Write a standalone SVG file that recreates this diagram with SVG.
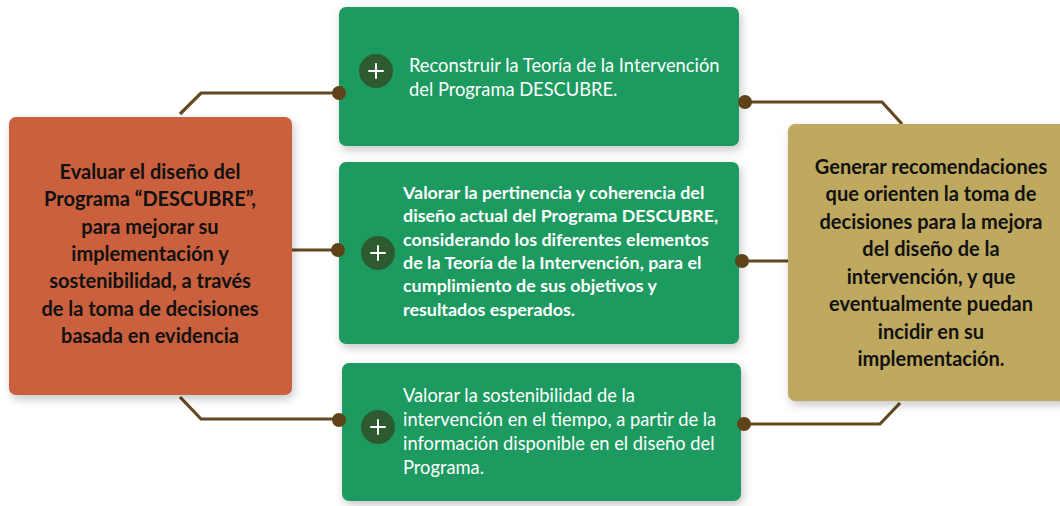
<svg xmlns="http://www.w3.org/2000/svg" width="1060" height="506" viewBox="0 0 1060 506">
<defs>
<filter id="sh" x="-10%" y="-10%" width="125%" height="130%">
<feDropShadow dx="2" dy="4" stdDeviation="5" flood-color="#000" flood-opacity="0.22"/>
</filter>
<style>
.green{fill:#1F9A61;filter:url(#sh)}
.plus{fill:#2D5A2E}
.pl{stroke:#fff;stroke-width:2;stroke-linecap:round}
.conn{fill:none;stroke:#634820;stroke-width:3.2}
.dot{fill:#5E4219}
.wt{font-family:Lato,"Open Sans","Liberation Sans",sans-serif;fill:#fff;font-size:18.3px}
.wb{font-family:Lato,"Open Sans","Liberation Sans",sans-serif;fill:#fff;font-size:17.9px;font-weight:bold}
.bk{font-family:Lato,"Open Sans","Liberation Sans",sans-serif;fill:#111;font-size:20px;font-weight:bold;text-anchor:middle}
</style>
</defs>
<rect width="1060" height="506" fill="#fff"/>
<g id="connectors">
<polyline class="conn" points="180,114 201,93 339,93"/>
<line class="conn" x1="290" y1="250" x2="337" y2="250"/>
<polyline class="conn" points="180,397 201,419 339,419"/>
<polyline class="conn" points="745,102 882,102 902,124"/>
<line class="conn" x1="742" y1="261" x2="790" y2="261"/>
<polyline class="conn" points="744,424 880,424 900,403"/>
</g>
<g id="left">
<rect x="9" y="117" width="283" height="278" rx="7" fill="#CA603C" filter="url(#sh)"/>
<text class="bk"><tspan x="150" y="179">Evaluar el diseño del</tspan><tspan x="150" y="206">Programa “DESCUBRE”,</tspan><tspan x="150" y="234">para mejorar su</tspan><tspan x="150" y="261">implementación y</tspan><tspan x="150" y="288">sostenibilidad, a través</tspan><tspan x="150" y="316">de la toma de decisiones</tspan><tspan x="150" y="343">basada en evidencia</tspan></text>
</g>
<g id="right">
<rect x="788" y="124" width="280" height="277" rx="7" fill="#BEA95E" filter="url(#sh)"/>
<text class="bk"><tspan x="931" y="174">Generar recomendaciones</tspan><tspan x="931" y="201">que orienten la toma de</tspan><tspan x="931" y="229">decisiones para la mejora</tspan><tspan x="931" y="256">del diseño de la</tspan><tspan x="931" y="284">intervención, y que</tspan><tspan x="931" y="311">eventualmente puedan</tspan><tspan x="931" y="339">incidir en su</tspan><tspan x="931" y="366">implementación.</tspan></text>
</g>
<g id="box1">
<rect class="green" x="339" y="7" width="400" height="139" rx="7"/>
<circle class="plus" cx="376" cy="71" r="17"/>
<path class="pl" d="M369,71h14M376,64v14"/>
<text class="wt"><tspan x="409" y="72">Reconstruir la Teoría de la Intervención</tspan><tspan x="409" y="96">del Programa DESCUBRE.</tspan></text>
</g>
<g id="box2">
<rect class="green" x="339" y="162" width="400" height="182" rx="7"/>
<circle class="plus" cx="378" cy="253" r="17"/>
<path class="pl" d="M371,253h14M378,246v14"/>
<text class="wb"><tspan x="403" y="199">Valorar la pertinencia y coherencia del</tspan><tspan x="403" y="222">diseño actual del Programa DESCUBRE,</tspan><tspan x="403" y="246">considerando los diferentes elementos</tspan><tspan x="403" y="269">de la Teoría de la Intervención, para el</tspan><tspan x="403" y="292">cumplimiento de sus objetivos y</tspan><tspan x="403" y="316">resultados esperados.</tspan></text>
</g>
<g id="box3">
<rect class="green" x="342" y="363" width="399" height="138" rx="7"/>
<circle class="plus" cx="378" cy="427" r="17"/>
<path class="pl" d="M371,427h14M378,420v14"/>
<text class="wt"><tspan x="403" y="402">Valorar la sostenibilidad de la</tspan><tspan x="403" y="426">intervención en el tiempo, a partir de la</tspan><tspan x="403" y="450">información disponible en el diseño del</tspan><tspan x="403" y="474">Programa.</tspan></text>
</g>
<g id="dots">
<circle class="dot" cx="339" cy="93" r="7"/>
<circle class="dot" cx="338" cy="250" r="7"/>
<circle class="dot" cx="339" cy="420" r="7"/>
<circle class="dot" cx="745" cy="102" r="7"/>
<circle class="dot" cx="742" cy="261" r="7"/>
<circle class="dot" cx="744" cy="424" r="7"/>
</g>
</svg>
